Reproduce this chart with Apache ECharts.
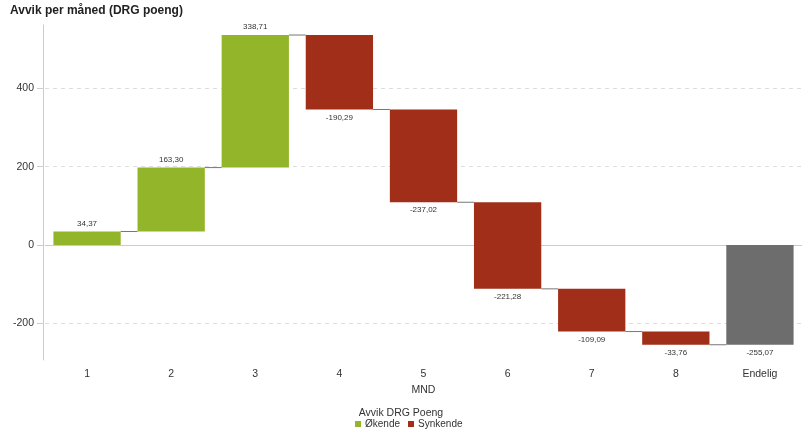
<!DOCTYPE html>
<html>
<head>
<meta charset="utf-8">
<script src="https://cdn.jsdelivr.net/npm/echarts@6/dist/echarts.min.js"></script>
<style>
  html, body { margin: 0; padding: 0; background: #fff; }
  #chart { width: 802px; height: 430px; }
</style>
</head>
<body>
<div id="chart"></div>
<script>
// Monthly deviation in DRG points, with the final (accumulated) result
const categories = ['1', '2', '3', '4', '5', '6', '7', '8', 'Endelig'];
const monthlyChange = [34.37, 163.30, 338.71, -190.29, -237.02, -221.28, -109.09, -33.76];
const finalValue = -255.07;
const yTickValues = [-200, 0, 200, 400];
const yGridValues = [-200, 200, 400];

const COLOR_UP = '#93b52a';
const COLOR_DOWN = '#a12e18';
const COLOR_TOTAL = '#6d6d6d';
const BAR_RATIO = 0.8;

const fmt = v => v.toFixed(2).replace('.', ',');

// Build floating bars: [index, start, end, change]
const upData = [], downData = [], connectors = [];
let running = 0;
monthlyChange.forEach((v, i) => {
  const start = running;
  running += v;
  (v >= 0 ? upData : downData).push([i, start, running, v]);
  connectors.push([i, running]);
});
const totalData = [[categories.length - 1, 0, finalValue, finalValue]];

function renderBar(params, api) {
  const idx = api.value(0), y0 = api.value(1), y1 = api.value(2), v = api.value(3);
  const band = api.size([1, 0])[0];
  const w = band * BAR_RATIO;
  const p0 = api.coord([idx, y0]);
  const p1 = api.coord([idx, y1]);
  const top = Math.min(p0[1], p1[1]);
  const h = Math.abs(p1[1] - p0[1]);
  return {
    type: 'group',
    children: [
      {
        type: 'rect',
        shape: { x: p0[0] - w / 2, y: top, width: w, height: h },
        style: { fill: api.visual('color') }
      },
      {
        type: 'text',
        style: {
          x: p0[0],
          y: v >= 0 ? top - 4 : top + h + 4,
          text: fmt(v),
          align: 'center',
          verticalAlign: v >= 0 ? 'bottom' : 'top',
          fill: '#333',
          font: '8px "Liberation Sans", Arial, sans-serif'
        }
      }
    ]
  };
}

function renderConnector(params, api) {
  const idx = api.value(0), level = api.value(1);
  const band = api.size([1, 0])[0];
  const w = band * BAR_RATIO;
  const a = api.coord([idx, level]);
  const b = api.coord([idx + 1, level]);
  return {
    type: 'line',
    shape: { x1: a[0] + w / 2, y1: a[1], x2: b[0] - w / 2, y2: b[1] },
    style: { stroke: '#777', lineWidth: 1 }
  };
}

const chart = echarts.init(document.getElementById('chart'), null, { renderer: 'canvas' });
const baseFont = '"Liberation Sans", Arial, sans-serif';

chart.setOption({
  animation: false,
  textStyle: { fontFamily: baseFont },
  title: [
    {
      text: 'Avvik per måned (DRG poeng)',
      left: 5, top: 0,
      textStyle: { fontSize: 12, fontWeight: 'bold', color: '#222', fontFamily: baseFont }
    },
    {
      text: 'Avvik DRG Poeng',
      left: 'center', top: 403,
      textStyle: { fontSize: 10.5, fontWeight: 'normal', color: '#333', fontFamily: baseFont }
    }
  ],
  legend: {
    data: ['Økende', 'Synkende'],
    left: 350,
    top: 414,
    icon: 'rect',
    itemWidth: 6,
    itemHeight: 6,
    itemGap: 8,
    textStyle: { fontSize: 10, color: '#333', padding: [0, 0, 0, -1] }
  },
  grid: { left: 45, top: 25, width: 760, height: 335 },
  xAxis: {
    type: 'category',
    data: categories,
    name: 'MND',
    nameLocation: 'middle',
    nameGap: 22,
    nameTextStyle: { fontSize: 10.5, color: '#333' },
    axisLine: { lineStyle: { color: '#ccc' } },
    axisTick: { alignWithLabel: true, length: 5, lineStyle: { color: '#ddd' } },
    axisLabel: { fontSize: 10.5, color: '#333', margin: 9 },
    splitLine: { show: false }
  },
  yAxis: {
    type: 'value',
    min: -294,
    max: 562,
    offset: 2,
    axisLine: { show: true, lineStyle: { color: '#ccc' } },
    axisTick: { show: true, length: 6, lineStyle: { color: '#ccc' }, customValues: yTickValues },
    axisLabel: { fontSize: 10.5, color: '#333', margin: 9, customValues: yTickValues },
    splitLine: { show: false }
  },
  series: [
    {
      // horizontal reference lines, kept beneath the bars
      type: 'line',
      name: 'grid',
      data: [],
      z: 1,
      silent: true,
      markLine: {
        z: 1,
        silent: true,
        symbol: 'none',
        label: { show: false },
        emphasis: { disabled: true },
        data: yGridValues.map(v => ({
          yAxis: v,
          lineStyle: { color: '#ddd', type: [4, 4], width: 1 }
        })).concat([{
          yAxis: 0,
          lineStyle: { color: '#ccc', type: 'solid', width: 1 }
        }])
      }
    },
    {
      type: 'custom',
      name: 'Økende',
      renderItem: renderBar,
      itemStyle: { color: COLOR_UP },
      encode: { x: 0, y: [1, 2] },
      data: upData,
      z: 3
    },
    {
      type: 'custom',
      name: 'Synkende',
      renderItem: renderBar,
      itemStyle: { color: COLOR_DOWN },
      encode: { x: 0, y: [1, 2] },
      data: downData,
      z: 3
    },
    {
      type: 'custom',
      name: 'Endelig',
      renderItem: renderBar,
      itemStyle: { color: COLOR_TOTAL },
      encode: { x: 0, y: [1, 2] },
      data: totalData,
      z: 3
    },
    {
      type: 'custom',
      name: 'connector',
      renderItem: renderConnector,
      encode: { x: 0, y: 1 },
      data: connectors,
      z: 4
    }
  ]
});
</script>
</body>
</html>
